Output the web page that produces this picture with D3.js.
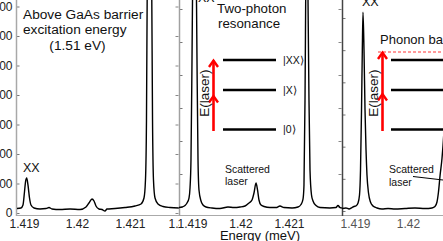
<!DOCTYPE html>
<html><head><meta charset="utf-8">
<script src="https://cdn.jsdelivr.net/npm/d3@7"></script>
<style>html,body{margin:0;padding:0;background:#fff;overflow:hidden}svg{display:block;font-family:"Liberation Sans",Arial,Helvetica,sans-serif}</style>
</head><body><svg id="c" width="443" height="241"></svg>
<script>
// ---------- data ----------
const p1Energy=[1.418868,1.418943,1.418981,1.419009,1.419028,1.419051,1.419075,1.419104,1.419132,1.419189,1.419302,1.419415,1.419472,1.419528,1.419679,1.419868,1.420057,1.420170,1.420226,1.420283,1.420321,1.420358,1.420415,1.420472,1.420528,1.420566,1.420717,1.420906,1.421094,1.421208,1.421264,1.421292,1.421311,1.421326,1.421368,1.421409,1.421425,1.421443,1.421472,1.421528,1.421623,1.421755,1.421925];
const p1Counts=[76,85,136,356,525,593,475,254,136,85,68,76,93,68,59,68,59,102,169,237,203,119,68,59,34,68,76,93,119,153,254,559,1576,3949,6153,3949,1576,559,254,153,110,93,85];
const p2Energy=[1.418732,1.418794,1.418856,1.418897,1.418938,1.418959,1.418979,1.419000,1.419021,1.419052,1.419082,1.419103,1.419124,1.419144,1.419186,1.419227,1.419289,1.419412,1.419577,1.419742,1.419866,1.419990,1.420093,1.420175,1.420237,1.420278,1.420320,1.420351,1.420381,1.420423,1.420485,1.420608,1.420732,1.420814,1.420897,1.421062,1.421186,1.421247,1.421289,1.421309,1.421330,1.421344,1.421365,1.421392,1.421412,1.421433,1.421464,1.421495,1.421557,1.421639,1.421845,1.421969,1.422010,1.422052,1.422093];
const p2Counts=[-8,0,23,61,136,288,712,2227,4045,5409,4045,2227,712,258,91,30,0,-15,-23,0,-8,0,15,61,106,212,364,258,106,30,8,-8,-8,15,-8,-15,0,38,121,333,1621,3136,5409,3136,1621,561,182,91,23,-8,-15,-8,23,-8,-15];
const p3Energy=[1.418755,1.418830,1.418887,1.418943,1.418981,1.419019,1.419057,1.419085,1.419104,1.419123,1.419138,1.419151,1.419170,1.419189,1.419208,1.419226,1.419255,1.419292,1.419340,1.419415,1.419509,1.419623,1.419755,1.419943,1.420132,1.420321,1.420453,1.420509,1.420547,1.420575,1.420604,1.420642,1.420679,1.420717];
const p3Counts=[39,47,31,54,70,78,124,248,637,1569,2500,3090,2500,1569,947,559,280,140,78,47,31,39,31,39,47,39,47,70,140,295,544,823,1258,2034];
const p1YTicks=[0,500,1000,1500,2000,2500,3000,3500];
const p2YTicks=[0,500,1000,1500,2000,2500,3000];
const p3YTicks=[0,500,1000,1500,2000,2500,3000];
const xTicks=[1.419,1.42,1.421,1.422];
const xTickLabels=["1.419","1.42","1.421","1.422"];
const p2XTicks=[1.419,1.42,1.421];
const p3XTicks=[1.419,1.42,1.421];
const levelLabels=["|XX\u27E9","|X\u27E9","|0\u27E9"];

// ---------- drawing ----------
const svg=d3.select("#c");
const H=241, axisY=215;
const fmt=d=>xTickLabels[xTicks.indexOf(d)]||String(d);

function panel(cfg){
  const g=svg.append("g");
  if(cfg.bg) g.append("rect").attr("x",cfg.x0).attr("y",0).attr("width",443-cfg.x0).attr("height",H).attr("fill","#fff");
  const x=d3.scaleLinear().domain(cfg.xd).range(cfg.xr);
  const y=d3.scaleLinear().domain(cfg.yd).range(cfg.yr);
  const id="clip"+cfg.x0;
  svg.append("clipPath").attr("id",id).append("rect").attr("x",cfg.x0).attr("y",0).attr("width",cfg.x1-cfg.x0).attr("height",axisY);
  const lid="lclip"+cfg.x0;
  svg.append("clipPath").attr("id",lid).append("rect").attr("x",cfg.x0-20).attr("y",0).attr("width",cfg.x1-cfg.x0+20).attr("height",H);
  // bottom axis
  const bx=g.append("g").attr("transform",`translate(0,${axisY})`).attr("clip-path",`url(#${lid})`)
    .call(d3.axisBottom(x).tickValues(cfg.xt).tickSizeInner(-3).tickSizeOuter(0).tickPadding(4.5).tickFormat(fmt));
  bx.select(".domain").remove();
  bx.selectAll("line").attr("stroke",cfg.axisCol);
  bx.selectAll("text").attr("font-size",12).attr("fill",cfg.labCol).attr("font-family","Liberation Sans, Arial, sans-serif");
  g.append("line").attr("x1",cfg.x0).attr("x2",443).attr("y1",axisY+0.5).attr("y2",axisY+0.5).attr("stroke","#aaa").attr("stroke-width",1.2);
  // left axis
  const ly=g.append("g").attr("transform",`translate(${cfg.x0+0.5},0)`)
    .call(d3.axisLeft(y).tickValues(cfg.yt).tickSizeInner(-3).tickSizeOuter(0).tickPadding(4).tickFormat(cfg.yLabels?d3.format("d"):""));
  ly.select(".domain").remove();
  ly.selectAll("line").attr("stroke",cfg.axisCol);
  ly.selectAll("text").attr("font-size",12).attr("fill","#222").attr("font-family","Liberation Sans, Arial, sans-serif");
  // right ticks
  const ry=g.append("g").attr("transform",`translate(${cfg.x1-0.5},0)`)
    .call(d3.axisRight(y).tickValues(cfg.yt).tickSizeInner(-3).tickSizeOuter(0).tickFormat(""));
  ry.select(".domain").remove();
  ry.selectAll("line").attr("stroke","#888");
  g.append("line").attr("x1",cfg.x0+0.5).attr("x2",cfg.x0+0.5).attr("y1",0).attr("y2",axisY+1).attr("stroke",cfg.lineCol).attr("stroke-width",1.5);
  // curve
  const pts=cfg.e.map((e,i)=>[e,cfg.c[i]]);
  g.append("path").datum(pts).attr("clip-path",`url(#${id})`)
    .attr("d",d3.line().x(d=>x(d[0])).y(d=>y(d[1])).curve(d3.curveMonotoneX))
    .attr("fill","none").attr("stroke","#000").attr("stroke-width",1.4);
  return {g,x,y};
}

const P1=panel({x0:16,x1:179,xd:[1.419,1.421],xr:[24,130],yd:[0,3500],yr:[213,6.5],xt:xTicks,yt:p1YTicks,e:p1Energy,c:p1Counts,yLabels:true,axisCol:"#777",labCol:"#222",lineCol:"#a8a8a8"});
const P2=panel({bg:true,x0:179,x1:342,xd:[1.419,1.421],xr:[192,289],yd:[0,3000],yr:[207,9],xt:p2XTicks,yt:p2YTicks,e:p2Energy,c:p2Counts,axisCol:"#777",labCol:"#222",lineCol:"#a0a0a0"});
const P3=panel({bg:true,x0:342,x1:460,xd:[1.419,1.42],xr:[355,408],yd:[0,3000],yr:[211,18],xt:p3XTicks,yt:p3YTicks,e:p3Energy,c:p3Counts,axisCol:"#777",labCol:"#555",lineCol:"#444"});

// ---------- annotations ----------
const T=(x,y,s,size,opt={})=>{const t=svg.append("text").attr("x",x).attr("y",y).text(s).attr("font-size",size).attr("fill",opt.fill||"#111");
  if(opt.anchor)t.attr("text-anchor",opt.anchor); if(opt.rot)t.attr("transform",`rotate(-90,${x},${y})`); return t;};
T(23,18.5,"Above GaAs barrier",13.7);
T(23,34,"excitation energy",13.7);
T(77.5,49.5,"(1.51 eV)",13.7,{anchor:"middle"});
T(23,172,"XX",12.5);
T(198,1.5,"XX",12.5);
T(362,6,"XX",12.5);
T(217,12.5,"Two-photon",13.3);
T(218,28,"resonance",13.3);
T(225,173,"Scattered",10.5);
T(225,185,"laser",10.5);
T(389,173,"Scattered",10.5);
T(389,185.5,"laser",10.5);
svg.append("line").attr("x1",413).attr("y1",176.5).attr("x2",443).attr("y2",180).attr("stroke","#000").attr("stroke-width",1);
T(380,43.5,"Phonon band",13);
T(260,239.5,"Energy (meV)",13,{anchor:"middle"});

function diagram(ax,lx0,lx1,labels,tips,rotX){
  const ys=[60,90,129.5];
  ys.forEach((yy,i)=>{
    svg.append("line").attr("x1",lx0).attr("x2",lx1).attr("y1",yy).attr("y2",yy).attr("stroke","#000").attr("stroke-width",2.6);
    if(labels) T(lx1+7,yy+3.5,labels[i],10.5);
  });
  svg.append("line").attr("x1",ax).attr("x2",ax).attr("y1",131).attr("y2",tips[0]+0.5).attr("stroke","#f00").attr("stroke-width",2.6);
  tips.forEach(t=>{
    svg.append("polyline").attr("points",`${ax-4.5},${t+7} ${ax},${t+0.5} ${ax+4.5},${t+7}`).attr("fill","none").attr("stroke","#f00").attr("stroke-width",2.4);
  });
  T(rotX,93,"E(laser)",13.5,{anchor:"middle",rot:true});
}
diagram(213.5,223,276,levelLabels,[60,95.5],209);
svg.append("line").attr("x1",378).attr("x2",443).attr("y1",52).attr("y2",52).attr("stroke","#f00").attr("stroke-width",0.8).attr("stroke-dasharray","3,2");
diagram(382.5,391,450,null,[52,93.5],377.5);
</script></body></html>
